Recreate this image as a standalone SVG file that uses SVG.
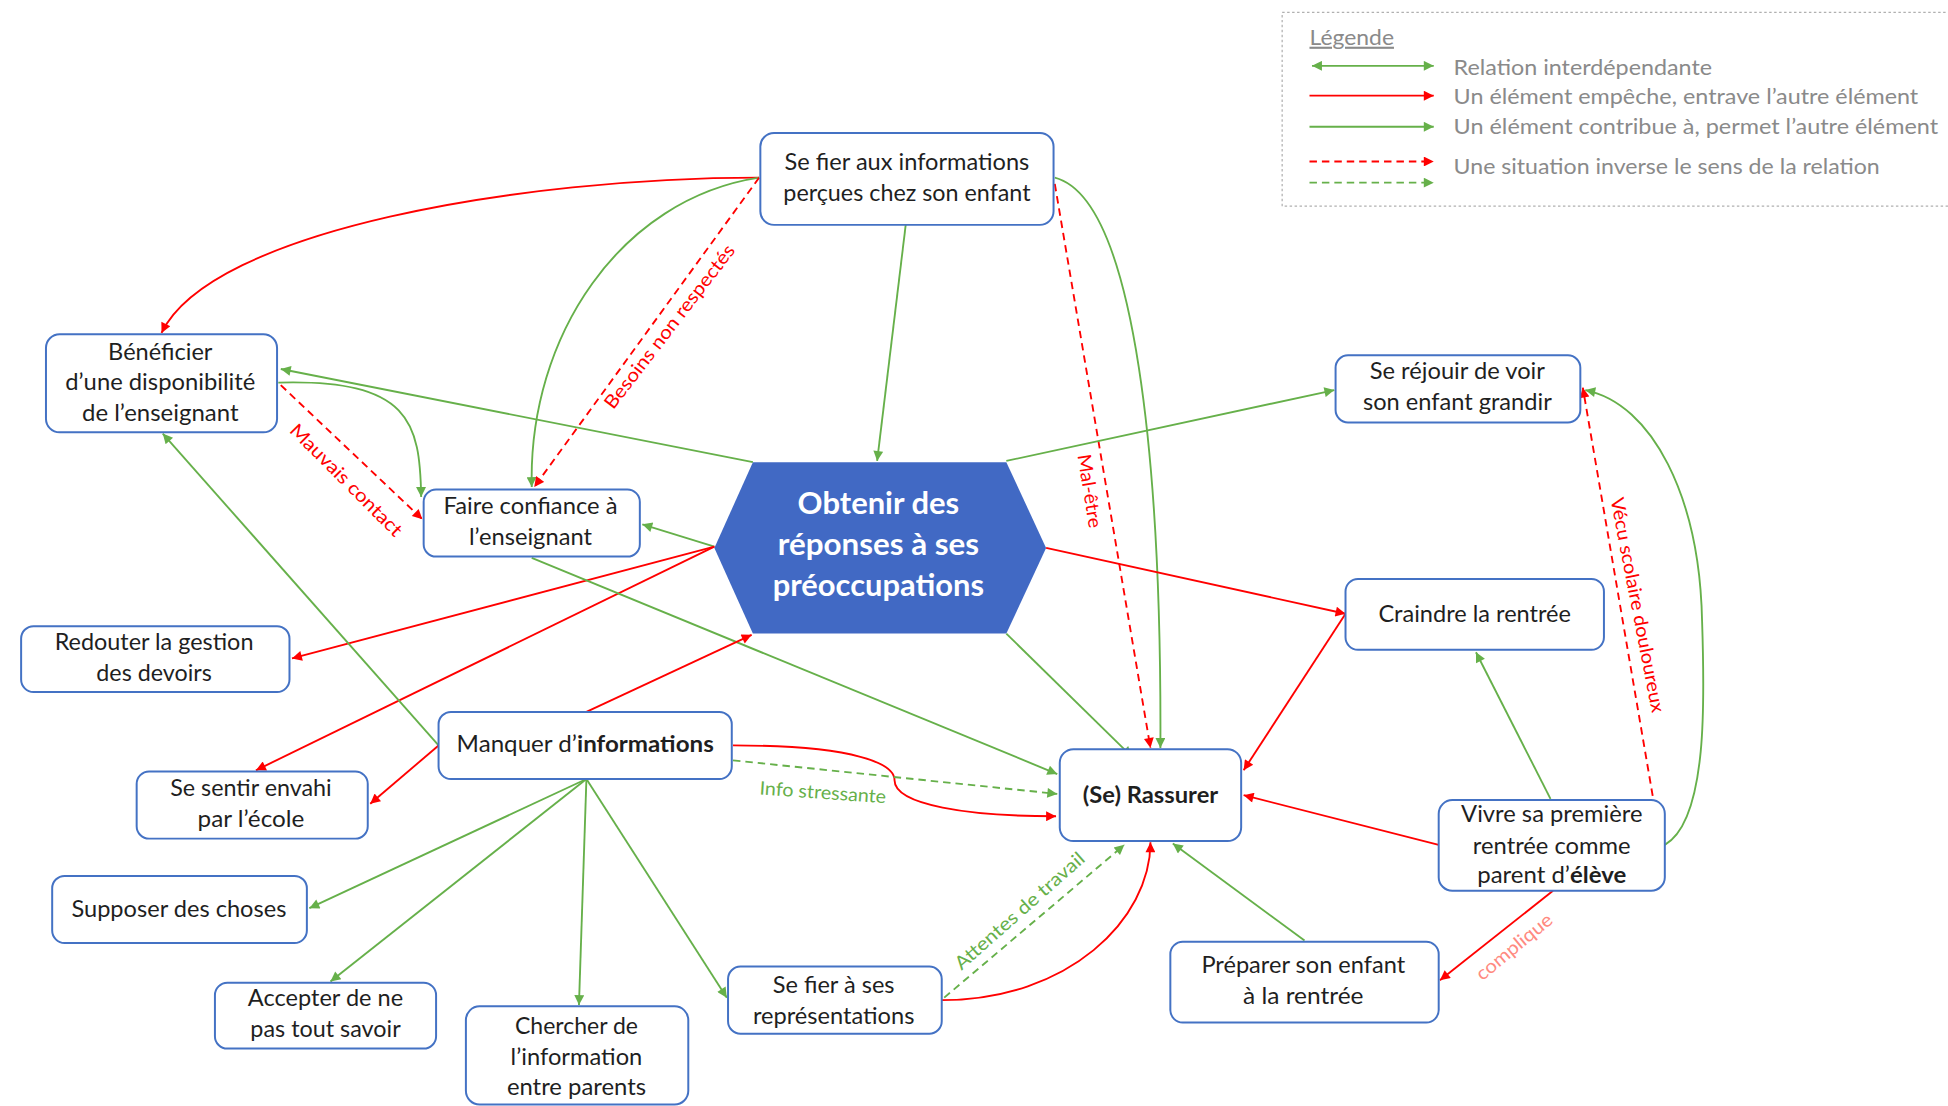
<svg xmlns="http://www.w3.org/2000/svg" width="1948" height="1106" viewBox="0 0 1948 1106">
  <style>
    .box { fill: #ffffff; stroke: #4472C4; stroke-width: 1.6; }
    .t { font-family: Lato, "Noto Sans", "Liberation Sans", sans-serif; font-size: 18px; fill: #1f1f1f; text-anchor: middle; }
    .b { font-weight: bold; }
    .hex { fill: #4169C4; }
    .ht { font-family: Lato, "Noto Sans", "Liberation Sans", sans-serif; font-size: 24px; font-weight: bold; fill: #ffffff; text-anchor: middle; }
    .g { stroke: #66b04a; stroke-width: 1.5; fill: none; }
    .r { stroke: #ff0000; stroke-width: 1.5; fill: none; }
    .d { stroke-dasharray: 6 4; }
    .ga { marker-end: url(#ah-g); }
    .ra { marker-end: url(#ah-r); }
    .lbl { font-family: Lato, "Noto Sans", "Liberation Sans", sans-serif; font-size: 15px; text-anchor: middle; }
    .lg { font-family: Lato, "Noto Sans", "Liberation Sans", sans-serif; font-size: 17px; fill: #8a8a8a; }
  </style>
  <defs>
    <marker id="ah-g" viewBox="0 0 10 10" refX="10" refY="5" markerUnits="userSpaceOnUse" markerWidth="10" markerHeight="8" orient="auto-start-reverse">
      <path d="M0,0 L10,5 L0,10 z" fill="#66b04a"/>
    </marker>
    <marker id="ah-r" viewBox="0 0 10 10" refX="10" refY="5" markerUnits="userSpaceOnUse" markerWidth="10" markerHeight="8" orient="auto-start-reverse">
      <path d="M0,0 L10,5 L0,10 z" fill="#ff0000"/>
    </marker>
  </defs>

  <rect width="1948" height="1106" fill="#ffffff"/>

  <g transform="scale(1.2424)">

    <!-- legend -->
    <g id="legende">
      <rect x="1032" y="10" width="560" height="156" fill="none" stroke="#b0b0b0" stroke-width="1" stroke-dasharray="2 2"/>
      <text class="lg" x="1054" y="36" text-decoration="underline" textLength="68" lengthAdjust="spacingAndGlyphs">Légende</text>
      <line x1="1056" y1="53" x2="1154" y2="53" class="g" stroke-width="2" marker-start="url(#ah-g)" marker-end="url(#ah-g)"/>
      <text class="lg" x="1170" y="60" textLength="208" lengthAdjust="spacingAndGlyphs">Relation interdépendante</text>
      <line x1="1054" y1="77" x2="1154" y2="77" class="r" stroke-width="2.5" marker-end="url(#ah-r)"/>
      <text class="lg" x="1170" y="84" textLength="374" lengthAdjust="spacingAndGlyphs">Un élément empêche, entrave l’autre élément</text>
      <line x1="1054" y1="102" x2="1154" y2="102" class="g" stroke-width="2" marker-end="url(#ah-g)"/>
      <text class="lg" x="1170" y="108" textLength="390" lengthAdjust="spacingAndGlyphs">Un élément contribue à, permet l’autre élément</text>
      <line x1="1054" y1="130" x2="1154" y2="130" class="r d" stroke-width="2" marker-end="url(#ah-r)"/>
      <line x1="1054" y1="147" x2="1154" y2="147" class="g d" stroke-width="2" marker-end="url(#ah-g)"/>
      <text class="lg" x="1170" y="140" textLength="343" lengthAdjust="spacingAndGlyphs">Une situation inverse le sens de la relation</text>
    </g>

    <!-- connectors -->
    <g id="connecteurs">
      <path class="r ra" d="M611,143 C420,143 170,185 130,268"/>
      <path class="g ga" d="M611,143 C500,160 425,270 428,392"/>
      <path class="r d ra" d="M611,143 L430,392"/>
      <path class="g ga" d="M729,181 L706,371"/>
      <path class="r d ra" d="M849,148 L926,602"/>
      <path class="g ga" d="M849,143 C915,160 935,380 934,602"/>
      <path class="g ga" d="M606,372 L226,297"/>
      <path class="g ga" d="M224,308 C330,305 338,340 339,400"/>
      <path class="r d ra" d="M226,310 L340,418"/>
      <path class="g ga" d="M575,440 L517,422"/>
      <path class="r ra" d="M575,440 L235,530"/>
      <path class="r ra" d="M575,440 L206,620"/>
      <path class="g ga" d="M428,449 L851,623"/>
      <path class="g ga" d="M353,600 L131,349"/>
      <path class="r ra" d="M472,573 L605,511"/>
      <path class="r ra" d="M353,600 L298,647"/>
      <path class="r ra" d="M590,600 C690,600 720,615 720,628 C720,648 780,657 850,657"/>
      <path class="g d ga" d="M590,612 L851,639"/>
      <path class="g ga" d="M472,627 L249,731"/>
      <path class="g ga" d="M472,627 L266,790"/>
      <path class="g ga" d="M472,627 L466,809"/>
      <path class="g ga" d="M472,627 L585,803"/>
      <path class="g ga" d="M810,371 L1074,314"/>
      <path class="r ra" d="M842,441 L1083,494"/>
      <path class="g ga" d="M810,510 L911,609"/>
      <path class="r ra" d="M1083,494 L1001,620"/>
      <path class="g ga" d="M1248,643 L1188,525"/>
      <path class="r ra" d="M1158,680 L1001,640"/>
      <path class="r d ra" d="M1337,680 L1274,312"/>
      <path class="g ga" d="M1340,680 C1375,660 1372,560 1370,500 C1368,400 1330,325 1276,314"/>
      <path class="g ga" d="M1050,757 L944,679"/>
      <path class="r ra" d="M1250,717 L1159,789"/>
      <path class="r ra" d="M758,805 C860,805 926,740 926,678"/>
      <path class="g d ga" d="M760,803 L905,680"/>

      <!-- connector labels -->
      <text class="lbl" fill="#ff0000" transform="translate(543,266) rotate(-52.5)" textLength="162" lengthAdjust="spacingAndGlyphs">Besoins non respectés</text>
      <text class="lbl" fill="#ff0000" transform="translate(872,396) rotate(81)" textLength="60" lengthAdjust="spacingAndGlyphs">Mal-être</text>
      <text class="lbl" fill="#ff0000" transform="translate(275,390) rotate(45)" textLength="121" lengthAdjust="spacingAndGlyphs">Mauvais contact</text>
      <text class="lbl" fill="#66b04a" transform="translate(662,643) rotate(4)" textLength="102" lengthAdjust="spacingAndGlyphs">Info stressante</text>
      <text class="lbl" fill="#66b04a" transform="translate(824,737) rotate(-41.5)" textLength="134" lengthAdjust="spacingAndGlyphs">Attentes de travail</text>
      <text class="lbl" fill="#ff0000" transform="translate(1313,488) rotate(79)" textLength="176" lengthAdjust="spacingAndGlyphs">Vécu scolaire douloureux</text>
      <text class="lbl" fill="#ff8a80" transform="translate(1222,766) rotate(-39.5)" textLength="75" lengthAdjust="spacingAndGlyphs">complique</text>
    </g>

    <!-- nodes -->
    <g id="se-fier-informations">
      <rect class="box" x="612" y="107" width="236" height="74" rx="11"/>
      <text class="t" x="730" y="137" textLength="197" lengthAdjust="spacingAndGlyphs">Se fier aux informations</text>
      <text class="t" x="730" y="162" textLength="199" lengthAdjust="spacingAndGlyphs">perçues chez son enfant</text>
    </g>

    <g id="beneficier-disponibilite">
      <rect class="box" x="37" y="269" width="186" height="79" rx="11"/>
      <text class="t" x="129" y="290" textLength="84" lengthAdjust="spacingAndGlyphs">Bénéficier</text>
      <text class="t" x="129" y="314" textLength="153" lengthAdjust="spacingAndGlyphs">d’une disponibilité</text>
      <text class="t" x="129" y="339" textLength="126" lengthAdjust="spacingAndGlyphs">de l’enseignant</text>
    </g>

    <g id="faire-confiance">
      <rect class="box" x="341" y="394" width="174" height="54" rx="10"/>
      <text class="t" x="427" y="414" textLength="140" lengthAdjust="spacingAndGlyphs">Faire confiance à</text>
      <text class="t" x="427" y="439" textLength="99" lengthAdjust="spacingAndGlyphs">l’enseignant</text>
    </g>

    <g id="obtenir-reponses">
      <polygon class="hex" points="606,372 810,372 842,441 810,510 606,510 575,441"/>
      <text class="ht" x="707" y="414" textLength="130" lengthAdjust="spacingAndGlyphs">Obtenir des</text>
      <text class="ht" x="707" y="447" textLength="162" lengthAdjust="spacingAndGlyphs">réponses à ses</text>
      <text class="ht" x="707" y="480" textLength="170" lengthAdjust="spacingAndGlyphs">préoccupations</text>
    </g>

    <g id="se-rejouir">
      <rect class="box" x="1075" y="286" width="197" height="54" rx="10"/>
      <text class="t" x="1173" y="305" textLength="141" lengthAdjust="spacingAndGlyphs">Se réjouir de voir</text>
      <text class="t" x="1173" y="330" textLength="152" lengthAdjust="spacingAndGlyphs">son enfant grandir</text>
    </g>

    <g id="craindre-rentree">
      <rect class="box" x="1083" y="466" width="208" height="57" rx="10"/>
      <text class="t" x="1187" y="501" textLength="155" lengthAdjust="spacingAndGlyphs">Craindre la rentrée</text>
    </g>

    <g id="rassurer">
      <rect class="box" x="853" y="603" width="146" height="74" rx="11"/>
      <text class="t b" x="926" y="646" textLength="109" lengthAdjust="spacingAndGlyphs">(Se) Rassurer</text>
    </g>

    <g id="redouter-devoirs">
      <rect class="box" x="17" y="504" width="216" height="53" rx="10"/>
      <text class="t" x="124" y="523" textLength="160" lengthAdjust="spacingAndGlyphs">Redouter la gestion</text>
      <text class="t" x="124" y="548" textLength="93" lengthAdjust="spacingAndGlyphs">des devoirs</text>
    </g>

    <g id="manquer-informations">
      <rect class="box" x="353" y="573" width="236" height="54" rx="10"/>
      <text class="t" x="471" y="605" textLength="207" lengthAdjust="spacingAndGlyphs">Manquer d’<tspan class="b">informations</tspan></text>
    </g>

    <g id="se-sentir-envahi">
      <rect class="box" x="110" y="621" width="186" height="54" rx="10"/>
      <text class="t" x="202" y="641" textLength="130" lengthAdjust="spacingAndGlyphs">Se sentir envahi</text>
      <text class="t" x="202" y="666" textLength="86" lengthAdjust="spacingAndGlyphs">par l’école</text>
    </g>

    <g id="supposer-choses">
      <rect class="box" x="42" y="705" width="205" height="54" rx="10"/>
      <text class="t" x="144" y="738" textLength="173" lengthAdjust="spacingAndGlyphs">Supposer des choses</text>
    </g>

    <g id="accepter-ne-pas-savoir">
      <rect class="box" x="173" y="791" width="178" height="53" rx="10"/>
      <text class="t" x="262" y="810" textLength="125" lengthAdjust="spacingAndGlyphs">Accepter de ne</text>
      <text class="t" x="262" y="835" textLength="121" lengthAdjust="spacingAndGlyphs">pas tout savoir</text>
    </g>

    <g id="chercher-information">
      <rect class="box" x="375" y="810" width="179" height="79" rx="11"/>
      <text class="t" x="464" y="832" textLength="99" lengthAdjust="spacingAndGlyphs">Chercher de</text>
      <text class="t" x="464" y="857" textLength="106" lengthAdjust="spacingAndGlyphs">l’information</text>
      <text class="t" x="464" y="881" textLength="112" lengthAdjust="spacingAndGlyphs">entre parents</text>
    </g>

    <g id="se-fier-representations">
      <rect class="box" x="586" y="778" width="172" height="54" rx="10"/>
      <text class="t" x="671" y="799" textLength="98" lengthAdjust="spacingAndGlyphs">Se fier à ses</text>
      <text class="t" x="671" y="824" textLength="130" lengthAdjust="spacingAndGlyphs">représentations</text>
    </g>

    <g id="preparer-enfant">
      <rect class="box" x="942" y="758" width="216" height="65" rx="10"/>
      <text class="t" x="1049" y="783" textLength="164" lengthAdjust="spacingAndGlyphs">Préparer son enfant</text>
      <text class="t" x="1049" y="808" textLength="97" lengthAdjust="spacingAndGlyphs">à la rentrée</text>
    </g>

    <g id="vivre-premiere-rentree">
      <rect class="box" x="1158" y="644" width="182" height="73" rx="11"/>
      <text class="t" x="1249" y="662" textLength="146" lengthAdjust="spacingAndGlyphs">Vivre sa première</text>
      <text class="t" x="1249" y="687" textLength="127" lengthAdjust="spacingAndGlyphs">rentrée comme</text>
      <text class="t" x="1249" y="711" textLength="120" lengthAdjust="spacingAndGlyphs">parent d’<tspan class="b">élève</tspan></text>
    </g>

  </g>
</svg>
